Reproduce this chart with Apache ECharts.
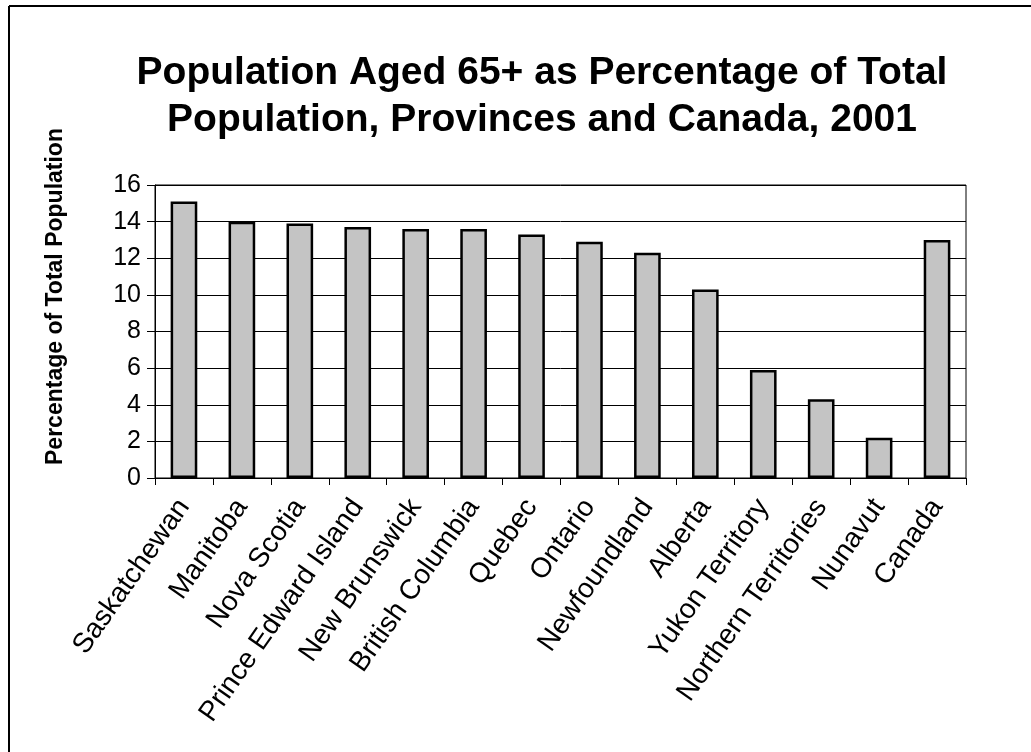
<!DOCTYPE html>
<html>
<head>
<meta charset="utf-8">
<script src="https://cdn.jsdelivr.net/npm/echarts@6/dist/echarts.min.js"></script>
<style>
html,body{margin:0;padding:0;background:#fff;}
#c{width:1031px;height:752px;}
</style>
</head>
<body>
<div id="c"></div>
<script>
const categories = ["Saskatchewan","Manitoba","Nova Scotia","Prince Edward Island","New Brunswick","British Columbia","Quebec","Ontario","Newfoundland","Alberta","Yukon Territory","Northern Territories","Nunavut","Canada"];
const values = [15.1, 14.0, 13.9, 13.7, 13.6, 13.6, 13.3, 12.9, 12.3, 10.3, 5.9, 4.3, 2.2, 13.0];
const yTicks = [0, 2, 4, 6, 8, 10, 12, 14, 16];
const titleText = "Population Aged 65+ as Percentage of Total\nPopulation, Provinces and Canada, 2001";
const yName = "Percentage of Total Population";

const chart = echarts.init(document.getElementById('c'));
const font = '"Liberation Sans", Arial, sans-serif';
chart.setOption({
  animation: false,
  backgroundColor: '#ffffff',
  title: {
    text: titleText,
    left: 537,
    textAlign: 'center',
    top: 45,
    textStyle: {fontFamily: font, fontWeight: 'bold', fontSize: 39, lineHeight: 47, color: '#000'}
  },
  graphic: [
    {type: 'line', shape: {x1: 9, y1: 6, x2: 1031, y2: 6}, style: {stroke: '#000', lineWidth: 2}},
    {type: 'line', shape: {x1: 9, y1: 6, x2: 9, y2: 752}, style: {stroke: '#000', lineWidth: 2}}
  ],
  grid: {left: 155, right: 65, top: 185, bottom: 274, show: true, borderColor: '#000', borderWidth: 1, backgroundColor: 'transparent'},
  xAxis: {
    type: 'category',
    data: categories,
    axisLine: {lineStyle: {color: '#000', width: 1}},
    axisTick: {show: true, length: 7, lineStyle: {color: '#000'}},
    axisLabel: {rotate: 55, fontFamily: font, fontSize: 28, color: '#000', margin: 24, interval: 0}
  },
  yAxis: {
    type: 'value',
    min: yTicks[0],
    max: yTicks[yTicks.length - 1],
    interval: 2,
    name: yName,
    nameLocation: 'middle',
    nameGap: 88,
    nameTextStyle: {fontFamily: font, fontWeight: 'bold', fontSize: 23, color: '#000', padding: [0, 0, 0, 70]},
    axisLine: {show: true, lineStyle: {color: '#000', width: 1}},
    axisTick: {show: true, length: 8, lineStyle: {color: '#000'}},
    axisLabel: {fontFamily: font, fontSize: 25, color: '#000', margin: 14},
    splitLine: {show: true, lineStyle: {color: '#000', width: 1}}
  },
  series: [{
    type: 'bar',
    data: values,
    barWidth: '46%',
    itemStyle: {color: '#c4c4c4', borderColor: '#000', borderWidth: 2.5}
  }]
});
</script>
</body>
</html>
